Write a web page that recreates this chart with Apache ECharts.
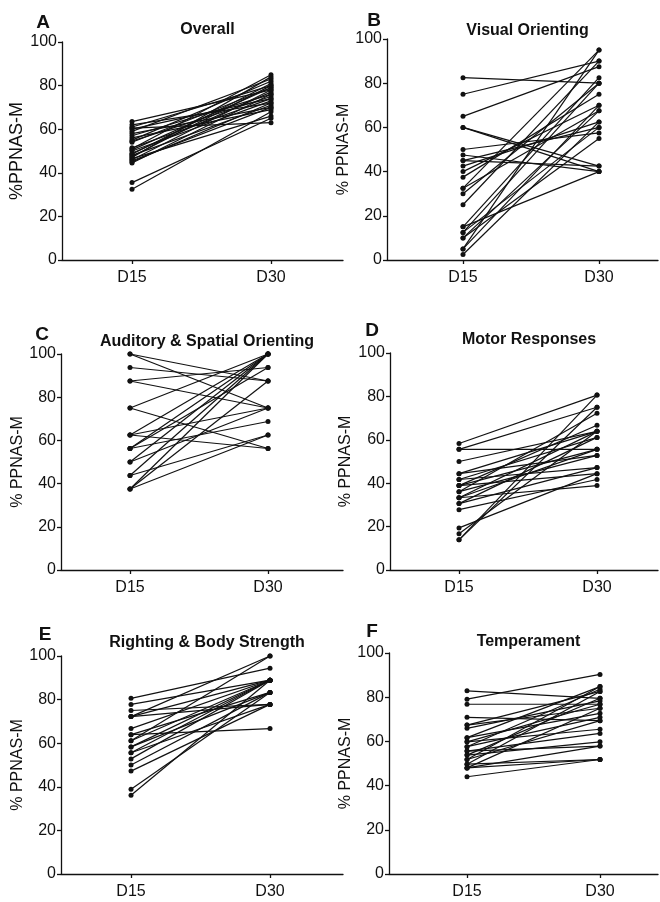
<!DOCTYPE html>
<html>
<head>
<meta charset="utf-8">
<script src="https://cdn.jsdelivr.net/npm/echarts@6/dist/echarts.min.js"></script>
<style>
  html, body { margin: 0; padding: 0; background: #fff; }
  #chart { width: 660px; height: 902px; }
</style>
</head>
<body>
<div id="chart"></div>
<script>
// categories / labels
const days = ['D15', 'D30'];
const panelLetters = ['A', 'B', 'C', 'D', 'E', 'F'];
const panelTitles = ['Overall', 'Visual Orienting', 'Auditory & Spatial Orienting',
  'Motor Responses', 'Righting & Body Strength', 'Temperament'];
const yNames = ['%PPNAS-M', '% PPNAS-M', '% PPNAS-M', '% PPNAS-M', '% PPNAS-M', '% PPNAS-M'];

// paired values, one entry per subject (D15 -> D30)
const overallD15 = [63.5, 62, 61, 60.5, 60, 59, 58, 57, 56, 55, 54.5, 54, 51.5, 51, 50.5, 50, 49, 48.5, 48, 47.5, 47, 46.5, 46, 45.5, 45, 44.5, 35.5, 32.5];
const overallD30 = [78, 72, 80, 63, 74, 83, 70, 76, 69, 82, 75, 79, 74, 85, 79, 73, 77, 81, 71, 80, 84, 66, 78, 70, 72, 76, 65, 68];

const visualD15 = [82.5, 75, 65, 60, 60, 50, 47.5, 45, 45, 42.5, 40, 37.5, 32.5, 32.5, 30, 25, 15, 15, 12.5, 12.5, 10, 10, 5, 5, 2.5];
const visualD30 = [80, 90, 87.5, 40, 42.5, 57.5, 40, 42.5, 60, 62.5, 70, 75, 95, 67.5, 80, 90, 82.5, 40, 80, 60, 55, 67.5, 95, 70, 62.5];

const auditoryD15 = [100, 100, 93.75, 87.5, 87.5, 75, 75, 62.5, 62.5, 62.5, 56.25, 56.25, 56.25, 50, 50, 43.75, 43.75, 37.5, 37.5, 37.5];
const auditoryD30 = [87.5, 75, 87.5, 93.75, 75, 100, 56.25, 75, 56.25, 100, 100, 68.75, 93.75, 100, 75, 100, 62.5, 87.5, 62.5, 100];

const motorD15 = [58.3, 55.6, 55.6, 50, 44.4, 44.4, 41.7, 41.7, 38.9, 38.9, 38.9, 36.1, 36.1, 33.3, 33.3, 33.3, 30.6, 30.6, 27.8, 19.4, 16.7, 13.9, 13.9];
const motorD30 = [80.6, 75, 55.6, 63.9, 63.9, 52.8, 61.1, 47.2, 66.7, 55.6, 44.4, 72.2, 52.8, 63.9, 55.6, 38.9, 47.2, 61.1, 41.7, 44.4, 63.9, 75, 80.6];

const rightingD15 = [80.6, 77.8, 75, 72.2, 72.2, 72.2, 66.7, 63.9, 63.9, 61.1, 61.1, 58.3, 58.3, 55.6, 55.6, 52.8, 50, 47.2, 38.9, 36.1];
const rightingD30 = [94.4, 88.9, 77.8, 77.8, 100, 88.9, 88.9, 66.7, 83.3, 100, 88.9, 88.9, 83.3, 88.9, 77.8, 88.9, 83.3, 77.8, 83.3, 88.9];

const temperD15 = [82.9, 79.1, 76.8, 70.9, 67.4, 67.4, 65.9, 61.7, 61.7, 59.8, 59.8, 57.6, 57.6, 55.6, 55.6, 53.8, 53.8, 51.8, 51.8, 49.7, 49.7, 48, 48, 48, 44];
const temperD30 = [79.5, 90.3, 76.8, 69.4, 82.6, 75, 78.3, 84.8, 72.7, 76.8, 65.5, 83.6, 70.9, 57.9, 63.6, 79.5, 59.8, 84.8, 69.4, 51.8, 82.6, 75, 57.9, 51.8, 51.8];

const pairs = [
  [overallD15, overallD30],
  [visualD15, visualD30],
  [auditoryD15, auditoryD30],
  [motorD15, motorD30],
  [rightingD15, rightingD30],
  [temperD15, temperD30],
];

// panel layout in pixels: y axis x, D15 x, D30 x, axis end x, top (100), bottom (0)
const layout = [
  {ax: 62, x15: 132, x30: 271, end: 343, top: 42, bottom: 260, titleY: 27, letter: [38, 19], nameSize: 18, nameGap: 33},
  {ax: 387, x15: 463, x30: 599, end: 658, top: 39, bottom: 260, titleY: 28, letter: [369, 17], nameSize: 16, nameGap: 33},
  {ax: 61, x15: 130, x30: 268, end: 343, top: 354, bottom: 570, titleY: 339, letter: [37, 331], nameSize: 16, nameGap: 32},
  {ax: 390, x15: 459, x30: 597, end: 658, top: 353, bottom: 570, titleY: 337, letter: [367, 327], nameSize: 16, nameGap: 36},
  {ax: 61, x15: 131, x30: 270, end: 343, top: 656, bottom: 874, titleY: 640, letter: [40, 631], nameSize: 16, nameGap: 34},
  {ax: 389, x15: 467, x30: 600, end: 658, top: 653, bottom: 874, titleY: 639, letter: [367, 628], nameSize: 16, nameGap: 35},
];

const font = '"Liberation Sans", Arial, sans-serif';
const ink = '#111';

const grids = [], xAxes = [], yAxes = [], titles = [], series = [];

layout.forEach((p, i) => {
  const unit = p.x30 - p.x15;
  grids.push({left: p.ax, top: p.top, width: p.end - p.ax, height: p.bottom - p.top});
  xAxes.push({
    type: 'value', gridIndex: i,
    min: 1 - (p.x15 - p.ax) / unit,
    max: 2 + (p.end - p.x30) / unit,
    splitLine: {show: false},
    axisLine: {onZero: false, lineStyle: {color: ink, width: 1.3}},
    axisTick: {show: true, length: 4, customValues: [1, 2], lineStyle: {color: ink, width: 1.3}},
    axisLabel: {
      customValues: [1, 2], color: ink, fontSize: 16, fontFamily: font, margin: 10,
      formatter: v => days[Math.round(v) - 1]
    }
  });
  yAxes.push({
    type: 'value', gridIndex: i, min: 0, max: 100, interval: 20,
    name: yNames[i], nameLocation: 'middle', nameGap: p.nameGap,
    nameTextStyle: {color: ink, fontSize: p.nameSize, fontFamily: font},
    splitLine: {show: false},
    axisLine: {show: true, lineStyle: {color: ink, width: 1.3}},
    axisTick: {show: true, length: 4, lineStyle: {color: ink, width: 1.3}},
    axisLabel: {color: ink, fontSize: 16, fontFamily: font, margin: 5}
  });
  titles.push({
    text: panelTitles[i], left: (p.ax + p.end) / 2, top: p.titleY - 10, textAlign: 'center',
    textStyle: {fontSize: 16, fontWeight: 'bold', color: ink, fontFamily: font}
  });
  titles.push({
    text: panelLetters[i], left: p.letter[0], top: p.letter[1] - 11, textAlign: 'center',
    textStyle: {fontSize: 19, fontWeight: 'bold', color: ink, fontFamily: font}
  });
  const [d15, d30] = pairs[i];
  d15.forEach((v, k) => {
    series.push({
      type: 'line', xAxisIndex: i, yAxisIndex: i,
      data: [[1, v], [2, d30[k]]],
      symbol: 'circle', symbolSize: 5,
      lineStyle: {color: ink, width: 1.2},
      itemStyle: {color: ink},
      silent: true
    });
  });
});

const chart = echarts.init(document.getElementById('chart'));
chart.setOption({
  animation: false,
  backgroundColor: '#fff',
  title: titles,
  grid: grids,
  xAxis: xAxes,
  yAxis: yAxes,
  series: series
});
</script>
</body>
</html>
